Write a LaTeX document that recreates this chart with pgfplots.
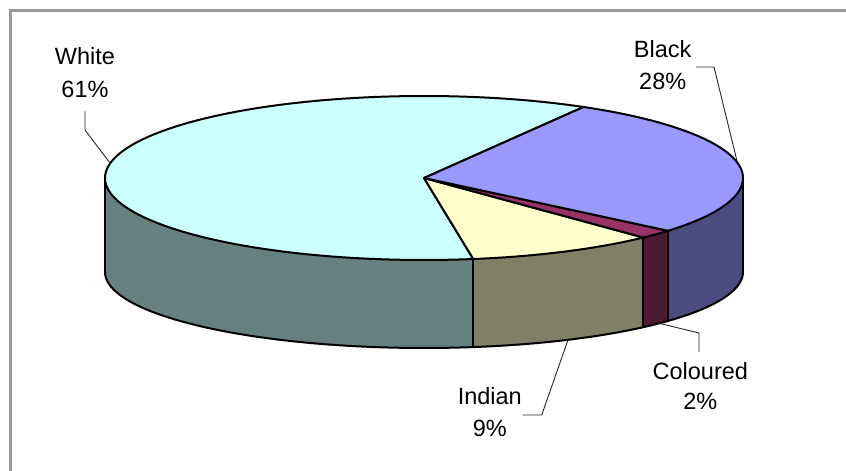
\documentclass[border=0pt]{standalone}
\usepackage{pgfplots}
\pgfplotsset{compat=1.18}
\usepgfplotslibrary{fillbetween}
\usepackage{fontspec}
\setmainfont{Liberation Sans}
\definecolor{topW}{HTML}{CCFFFF}
\definecolor{topB}{HTML}{9999FF}
\definecolor{topC}{HTML}{993366}
\definecolor{topI}{HTML}{FFFFCC}
\definecolor{sideW}{HTML}{668080}
\definecolor{sideB}{HTML}{4C4C80}
\definecolor{sideC}{HTML}{4D1A33}
\definecolor{sideI}{HTML}{808066}
\definecolor{frame}{HTML}{9A9A9A}
\tikzset{
  edge/.style={draw=black, line width=2pt, line join=round},
  lead/.style={draw=black!85, line width=0.9pt},
  lab/.style={anchor=base, font=\fontsize{23.5}{28}\selectfont}}
% data (percent)
\def\vBlack{27.8}
\def\vCol{1.8}
\def\vInd{9.6}
\def\vWhite{60.8}
% geometry (pixels)
\def\cx{424}\def\rx{319}
\def\cy{178}\def\ry{82}
\def\cyb{272}\def\ryb{76}
\pgfmathsetmacro\aA{60}
\pgfmathsetmacro\aB{\aA-3.6*\vBlack}
\pgfmathsetmacro\aC{\aB-3.6*\vCol}
\pgfmathsetmacro\aD{\aC-3.6*\vInd}
\pgfmathsetmacro\aE{\aD-3.6*\vWhite}
\begin{document}
\begin{tikzpicture}
\begin{axis}[scale only axis, width=846pt, height=471pt,
  xmin=0, xmax=846, ymin=0, ymax=471, y dir=reverse,
  hide axis, clip=false, samples=120]
\coordinate (BL) at (axis cs:0,471);
\coordinate (TR) at (axis cs:846,0);
% ---- side faces
\addplot[name path=Wt, draw=none, domain=-180:\aD] ({\cx+\rx*cos(x)},{\cy-\ry*sin(x)});
\addplot[name path=Wb, draw=none, domain=-180:\aD] ({\cx+\rx*cos(x)},{\cyb-\ryb*sin(x)});
\addplot[fill=sideW, draw=none] fill between[of=Wt and Wb];
\addplot[name path=It, draw=none, domain=\aD:\aC] ({\cx+\rx*cos(x)},{\cy-\ry*sin(x)});
\addplot[name path=Ib, draw=none, domain=\aD:\aC] ({\cx+\rx*cos(x)},{\cyb-\ryb*sin(x)});
\addplot[fill=sideI, draw=none] fill between[of=It and Ib];
\addplot[name path=Ct, draw=none, domain=\aC:\aB, samples=20] ({\cx+\rx*cos(x)},{\cy-\ry*sin(x)});
\addplot[name path=Cb, draw=none, domain=\aC:\aB, samples=20] ({\cx+\rx*cos(x)},{\cyb-\ryb*sin(x)});
\addplot[fill=sideC, draw=none] fill between[of=Ct and Cb];
\addplot[name path=Bt, draw=none, domain=\aB:0] ({\cx+\rx*cos(x)},{\cy-\ry*sin(x)});
\addplot[name path=Bb, draw=none, domain=\aB:0] ({\cx+\rx*cos(x)},{\cyb-\ryb*sin(x)});
\addplot[fill=sideB, draw=none] fill between[of=Bt and Bb];
% bottom outline
\addplot[edge, domain=-180:0] ({\cx+\rx*cos(x)},{\cyb-\ryb*sin(x)});
% vertical edges
\addplot[edge, domain=0:1, samples=2] ({\cx-\rx},{(1-x)*\cy+x*\cyb});
\addplot[edge, domain=0:1, samples=2] ({\cx+\rx},{(1-x)*\cy+x*\cyb});
\addplot[edge, domain=0:1, samples=2] ({\cx+\rx*cos(\aD)},{(1-x)*(\cy-\ry*sin(\aD))+x*(\cyb-\ryb*sin(\aD))});
\addplot[edge, domain=0:1, samples=2] ({\cx+\rx*cos(\aC)},{(1-x)*(\cy-\ry*sin(\aC))+x*(\cyb-\ryb*sin(\aC))});
\addplot[edge, domain=0:1, samples=2] ({\cx+\rx*cos(\aB)},{(1-x)*(\cy-\ry*sin(\aB))+x*(\cyb-\ryb*sin(\aB))});
% ---- top faces
\addplot[fill=topW, edge, domain=\aE:\aD] ({\cx+\rx*cos(x)},{\cy-\ry*sin(x)}) -- (axis cs:\cx,\cy) -- cycle;
\addplot[fill=topI, edge, domain=\aD:\aC] ({\cx+\rx*cos(x)},{\cy-\ry*sin(x)}) -- (axis cs:\cx,\cy) -- cycle;
\addplot[fill=topC, edge, domain=\aC:\aB, samples=20] ({\cx+\rx*cos(x)},{\cy-\ry*sin(x)}) -- (axis cs:\cx,\cy) -- cycle;
\addplot[fill=topB, edge, domain=\aB:\aA] ({\cx+\rx*cos(x)},{\cy-\ry*sin(x)}) -- (axis cs:\cx,\cy) -- cycle;
% ---- leader lines
\addplot[lead] coordinates {(85,111) (85,130) (110,163)};
\addplot[lead] coordinates {(696,67) (714,67) (737,161)};
\addplot[lead] coordinates {(658,323) (699,333) (699,352)};
\addplot[lead] coordinates {(567.7,340.7) (541.7,415) (522.7,415)};
% ---- labels
\node[lab] at (axis cs:85,65) {White};
\node[lab] at (axis cs:85,98) {61\%};
\node[lab] at (axis cs:662.7,57.3) {Black};
\node[lab] at (axis cs:662.7,90) {28\%};
\node[lab] at (axis cs:700.3,379.3) {Coloured};
\node[lab] at (axis cs:700.3,409.3) {2\%};
\node[lab] at (axis cs:489.8,405) {Indian};
\node[lab] at (axis cs:489.8,436.7) {9\%};
% ---- frame
\addplot[draw=frame, line width=3pt] coordinates {(10.5,471) (10.5,10.5) (846,10.5)};
\end{axis}
\pgfresetboundingbox
\useasboundingbox (BL) rectangle (TR);
\end{tikzpicture}
\end{document}
